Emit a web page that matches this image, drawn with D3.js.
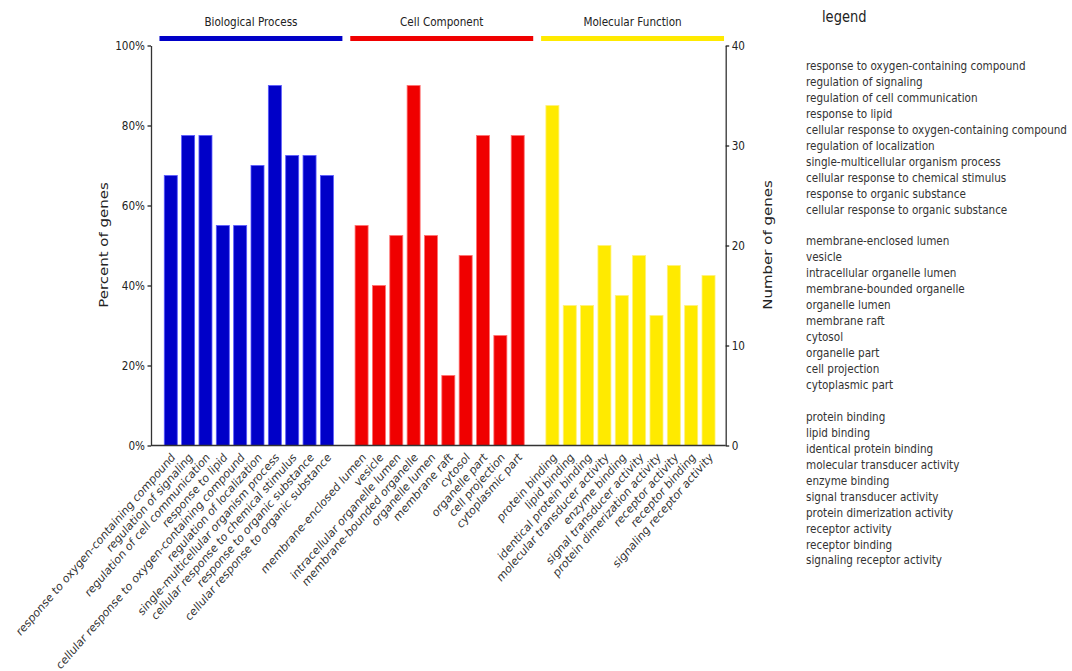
<!DOCTYPE html>
<html>
<head>
<meta charset="utf-8">
<script src="https://cdn.jsdelivr.net/npm/d3@7"></script>
<style>
  html, body { margin: 0; padding: 0; background: #fff; }
  svg { display: block; }
  text { font-family: "DejaVu Sans", sans-serif; }
</style>
</head>
<body>
<svg id="chart" width="1072" height="671"></svg>
<script>
// GO term names, per ontology
const bpTerms = [
  "response to oxygen-containing compound",
  "regulation of signaling",
  "regulation of cell communication",
  "response to lipid",
  "cellular response to oxygen-containing compound",
  "regulation of localization",
  "single-multicellular organism process",
  "cellular response to chemical stimulus",
  "response to organic substance",
  "cellular response to organic substance"
];
const ccTerms = [
  "membrane-enclosed lumen",
  "vesicle",
  "intracellular organelle lumen",
  "membrane-bounded organelle",
  "organelle lumen",
  "membrane raft",
  "cytosol",
  "organelle part",
  "cell projection",
  "cytoplasmic part"
];
const mfTerms = [
  "protein binding",
  "lipid binding",
  "identical protein binding",
  "molecular transducer activity",
  "enzyme binding",
  "signal transducer activity",
  "protein dimerization activity",
  "receptor activity",
  "receptor binding",
  "signaling receptor activity"
];

// Number of genes annotated to each term
const bpCounts = [27, 31, 31, 22, 22, 28, 36, 29, 29, 27];
const ccCounts = [22, 16, 21, 36, 21, 7, 19, 31, 11, 31];
const mfCounts = [34, 14, 14, 20, 15, 19, 13, 18, 14, 17];

const groupNames = ["Biological Process", "Cell Component", "Molecular Function"];
const groupColors = ["#0000c8", "#f00000", "#ffea00"];
const groupEdges = ["#5a5aff", "#ff7070", "#fff27a"];

const percentTicks = [0, 20, 40, 60, 80, 100];
const countTicks = [0, 10, 20, 30, 40];
const totalGenes = 40;   // 100% of genes == 40 genes

// horizontal squeeze applied to all lettering
const SX = 0.87;

const svg = d3.select("#chart");

const groups = [
  { name: groupNames[0], terms: bpTerms, counts: bpCounts, color: groupColors[0], edge: groupEdges[0] },
  { name: groupNames[1], terms: ccTerms, counts: ccCounts, color: groupColors[1], edge: groupEdges[1] },
  { name: groupNames[2], terms: mfTerms, counts: mfCounts, color: groupColors[2], edge: groupEdges[2] }
];

// flatten bars, with one empty slot between ontologies
const slots = [];
const bars = [];
groups.forEach((g, gi) => {
  if (gi > 0) slots.push("gap" + gi);
  g.terms.forEach((t, i) => {
    const key = gi + ":" + i;
    slots.push(key);
    bars.push({ key, term: t, count: g.counts[i], group: gi });
  });
});

const plot = { left: 151, right: 725.7, top: 45.5, bottom: 445.5 };

const x = d3.scaleBand()
  .domain(slots)
  .range([162.1, 717.2])
  .paddingInner(0.25)
  .paddingOuter(0.125);

const yCount = d3.scaleLinear().domain([0, totalGenes]).range([plot.bottom, plot.top]);
const yPct = d3.scaleLinear().domain([0, 100]).range([plot.bottom, plot.top]);

// bars
svg.append("g")
  .selectAll("rect")
  .data(bars)
  .join("rect")
  .attr("x", d => x(d.key))
  .attr("width", x.bandwidth())
  .attr("y", d => yCount(d.count))
  .attr("height", d => yCount(0) - yCount(d.count))
  .attr("fill", d => groups[d.group].color)
  .attr("stroke", d => groups[d.group].edge)
  .attr("stroke-width", 0.8);

function squeezeTicks(sel) {
  sel.selectAll(".tick text").each(function () {
    const t = d3.select(this);
    const tx = +t.attr("x") || 0;
    t.attr("x", null).attr("transform", `translate(${tx},0) scale(${SX},1)`);
  });
}

// left axis: percent
const leftAxis = svg.append("g")
  .attr("transform", `translate(${plot.left},0)`)
  .call(d3.axisLeft(yPct).tickValues(percentTicks).tickFormat(d => d + "%").tickSize(3.5).tickSizeOuter(0).tickPadding(2.5));
leftAxis.selectAll("text").attr("font-size", 12).attr("fill", "#222").attr("font-family", "DejaVu Sans");
leftAxis.select(".domain").attr("stroke", "#333").attr("stroke-width", 1.3);
leftAxis.selectAll(".tick line").attr("stroke", "#222").attr("stroke-width", 1.3);
squeezeTicks(leftAxis);

// right axis: gene counts
const rightAxis = svg.append("g")
  .attr("transform", `translate(${plot.right},0)`)
  .call(d3.axisRight(yCount).tickValues(countTicks).tickSize(3.5).tickSizeOuter(0).tickPadding(2.5));
rightAxis.selectAll("text").attr("font-size", 12).attr("fill", "#222").attr("font-family", "DejaVu Sans");
rightAxis.select(".domain").attr("stroke", "#333").attr("stroke-width", 1.3);
rightAxis.selectAll(".tick line").attr("stroke", "#222").attr("stroke-width", 1.3);
squeezeTicks(rightAxis);

// baseline
svg.append("line")
  .attr("x1", plot.left).attr("x2", plot.right)
  .attr("y1", plot.bottom).attr("y2", plot.bottom)
  .attr("stroke", "#333").attr("stroke-width", 1.3);

// axis titles
svg.append("text")
  .attr("transform", `translate(108,245) rotate(-90) scale(1,${SX})`)
  .attr("text-anchor", "middle")
  .attr("font-size", 15)
  .attr("fill", "#222")
  .text("Percent of genes");

svg.append("text")
  .attr("transform", `translate(763,245) rotate(-90) scale(1,${SX})`)
  .attr("text-anchor", "middle")
  .attr("dy", "0.7em")
  .attr("font-size", 15)
  .attr("fill", "#222")
  .text("Number of genes");

// ontology headers with coloured rules
groups.forEach((g, gi) => {
  const first = x(gi + ":0");
  const last = x(gi + ":" + (g.terms.length - 1)) + x.bandwidth();
  const x1 = first - 4.8;
  const x2 = last + 9;
  svg.append("line")
    .attr("x1", x1).attr("x2", x2)
    .attr("y1", 38.5).attr("y2", 38.5)
    .attr("stroke", g.color)
    .attr("stroke-width", 5);
  svg.append("text")
    .attr("transform", `translate(${(x1 + x2) / 2},26) scale(${SX},1)`)
    .attr("text-anchor", "middle")
    .attr("font-size", 12)
    .attr("fill", "#222")
    .text(g.name);
});

// rotated category labels
svg.append("g")
  .selectAll("text")
  .data(bars)
  .join("text")
  .attr("transform", d => `translate(${x(d.key) + x.bandwidth() / 2 + 5},458) scale(${SX},1) rotate(-45)`)
  .attr("text-anchor", "end")
  .attr("font-size", 12)
  .attr("fill", "#333")
  .text(d => d.term);

// legend listing
svg.append("text")
  .attr("transform", `translate(822,22) scale(${SX},1)`)
  .attr("font-size", 15)
  .attr("fill", "#222")
  .text("legend");

const legendRows = [];
groups.forEach((g, gi) => {
  g.terms.forEach((t, i) => legendRows.push({ term: t, row: gi * 11 + i }));
});
svg.append("g")
  .selectAll("text")
  .data(legendRows)
  .join("text")
  .attr("transform", d => `translate(806,${70 + d.row * 15.95}) scale(${SX},1)`)
  .attr("font-size", 12)
  .attr("fill", "#333")
  .text(d => d.term);
</script>
</body>
</html>
